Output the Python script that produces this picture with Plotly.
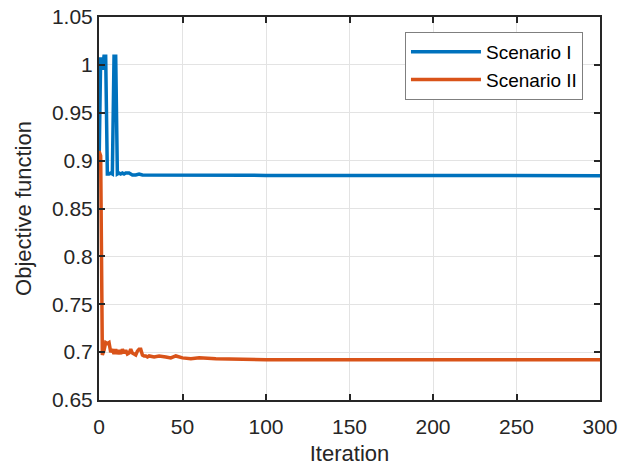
import plotly.graph_objects as go

# Scenario I
blue_iter = [0, 1, 2, 3, 4, 5, 6, 7, 8, 9, 10, 11, 12, 13, 14, 15, 16, 17, 18, 19, 20,
             22, 24, 26, 28, 30, 35, 40, 45, 50, 55, 60, 65, 70, 75, 80, 90, 100, 110,
             120, 150, 200, 250, 300]
blue_vals = [0.89, 1.008, 0.995, 1.009, 1.009, 0.886, 0.886, 0.887, 0.886, 1.009, 1.009,
             0.886, 0.887, 0.886, 0.887, 0.886, 0.887, 0.887, 0.887, 0.886, 0.885,
             0.885, 0.886, 0.885, 0.885, 0.885, 0.8855, 0.885, 0.8855, 0.885, 0.8855,
             0.885, 0.885, 0.8855, 0.885, 0.885, 0.8848, 0.8845, 0.8845, 0.8843,
             0.8843, 0.8843, 0.8843, 0.8843]

# Scenario II
orange_iter = [0, 1, 2, 3, 4, 5, 6, 7, 8, 9, 10, 11, 12, 13, 14, 15, 16, 17, 18, 19, 20,
               21, 22, 23, 24, 25, 26, 27, 28, 29, 30, 33, 36, 40, 43, 46, 50, 55, 60,
               70, 80, 90, 100, 150, 200, 250, 300]
orange_vals = [0.91, 0.905, 0.697, 0.702, 0.710, 0.709, 0.710, 0.700, 0.703, 0.698, 0.703,
               0.698, 0.702, 0.698, 0.703, 0.699, 0.702, 0.698, 0.699, 0.703, 0.699,
               0.698, 0.697, 0.701, 0.703, 0.703, 0.697, 0.696, 0.696, 0.695, 0.696,
               0.695, 0.696, 0.695, 0.694, 0.696, 0.694, 0.693, 0.694, 0.693, 0.6925,
               0.6925, 0.692, 0.692, 0.692, 0.692, 0.692]

y_ticks = [0.65, 0.7, 0.75, 0.8, 0.85, 0.9, 0.95, 1.0, 1.05]
y_tick_text = ["0.65", "0.7", "0.75", "0.8", "0.85", "0.9", "0.95", "1", "1.05"]
x_ticks = [0, 50, 100, 150, 200, 250, 300]

FONT = "Liberation Sans, Arial"
INK = "#262626"

fig = go.Figure()
fig.add_trace(go.Scatter(x=blue_iter, y=blue_vals, mode="lines", name="Scenario I",
                         line=dict(color="#0072BD", width=3.5)))
fig.add_trace(go.Scatter(x=orange_iter, y=orange_vals, mode="lines", name="Scenario II",
                         line=dict(color="#D95319", width=3.5)))

axis_common = dict(showline=True, linecolor=INK, linewidth=2, mirror="ticks",
                   ticks="inside", ticklen=6, tickwidth=2, tickcolor=INK,
                   showgrid=True, gridcolor="#E3E3E3", gridwidth=1, zeroline=False,
                   automargin=False,
                   tickfont=dict(family=FONT, size=21, color=INK))

fig.update_xaxes(range=[0, 300], tickvals=x_ticks, ticklabelstandoff=7,
                 title=dict(text="Iteration", font=dict(family=FONT, size=22, color=INK), standoff=11),
                 **axis_common)
fig.update_yaxes(range=[0.65, 1.05], tickvals=y_ticks, ticktext=y_tick_text,
                 title=dict(text="Objective function", font=dict(family=FONT, size=22, color=INK), standoff=14),
                 **axis_common)

fig.update_layout(
    width=618, height=466,
    margin=dict(l=99, r=18, t=17, b=66),
    paper_bgcolor="white", plot_bgcolor="white",
    showlegend=True,
    legend=dict(x=0.966, y=0.961, xanchor="right", yanchor="top",
                bgcolor="white", bordercolor="#7F7F7F", borderwidth=1,
                font=dict(family=FONT, size=19, color="black"),
                itemwidth=70, tracegroupgap=0),
)

fig.write_html("out.html")
